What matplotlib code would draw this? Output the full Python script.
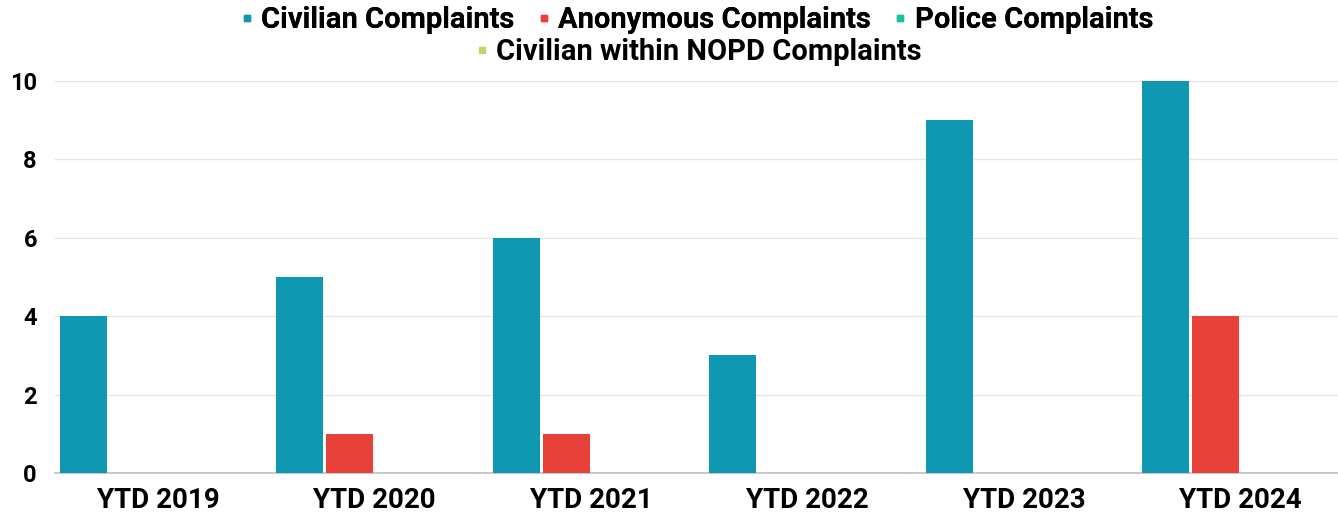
import matplotlib
matplotlib.use("Agg")
import matplotlib.pyplot as plt
import numpy as np
from matplotlib.lines import Line2D

categories = ["YTD 2019", "YTD 2020", "YTD 2021", "YTD 2022", "YTD 2023", "YTD 2024"]
civilian = [4, 5, 6, 3, 9, 10]
anonymous = [0, 1, 1, 0, 0, 4]
police = [0, 0, 0, 0, 0, 0]
civ_nopd = [0, 0, 0, 0, 0, 0]
series_names = ["Civilian Complaints", "Anonymous Complaints", "Police Complaints",
                "Civilian within NOPD Complaints"]
colors = ["#0E98B2", "#E8413A", "#17C3A0", "#C9D36B"]
yticks = [0, 2, 4, 6, 8, 10]

plt.rcParams['font.family'] = ['Roboto', 'DejaVu Sans']

fig = plt.figure(figsize=(13.38, 5.14), dpi=100)
ax = fig.add_axes([55/1338, (514-473)/514, 1 - 55/1338, (473-73)/514])

x = np.arange(len(categories))
step = 0.231
width = 0.217
series = [civilian, anonymous, police, civ_nopd]
for i, (vals, c) in enumerate(zip(series, colors)):
    ax.bar(x + (i - 1.5) * step, vals, width=width, color=c, zorder=3)

ax.set_xlim(-0.476, 5.45)
ax.set_ylim(0, 10.2)
ax.set_yticks(yticks)
ax.set_yticklabels([str(t) for t in yticks], fontsize=17, fontweight='bold')
ax.set_xticks(x)
ax.set_xticklabels(categories, fontsize=20, fontweight='bold')
ax.tick_params(axis='y', length=0, pad=13)
ax.tick_params(axis='x', length=0, pad=10)
for s in ['top', 'right', 'left']:
    ax.spines[s].set_visible(False)
ax.spines['bottom'].set_color('#BFBFBF')
ax.spines['bottom'].set_linewidth(1.2)
ax.yaxis.grid(True, color='#E6E6E6', linewidth=1.0, zorder=0)
ax.set_axisbelow(True)

def handle(c):
    return Line2D([0], [0], marker='s', color='none', markerfacecolor=c,
                  markeredgecolor=c, markersize=4.5)

leg1 = fig.legend([handle(c) for c in colors[:3]], series_names[:3],
                  loc='center', bbox_to_anchor=(697/1338, 1 - 20/514), ncol=3,
                  frameon=False, prop={'size': 21, 'weight': 'bold'},
                  handlelength=0.4, handletextpad=0.3, columnspacing=0.8,
                  borderpad=0, borderaxespad=0)
leg2 = fig.legend([handle(colors[3])], series_names[3:],
                  loc='center', bbox_to_anchor=(699/1338, 1 - 52/514), ncol=1,
                  frameon=False, prop={'size': 21, 'weight': 'bold'},
                  handlelength=0.4, handletextpad=0.3,
                  borderpad=0, borderaxespad=0)
fig.add_artist(leg1)

fig.savefig("out.png", dpi=100)
